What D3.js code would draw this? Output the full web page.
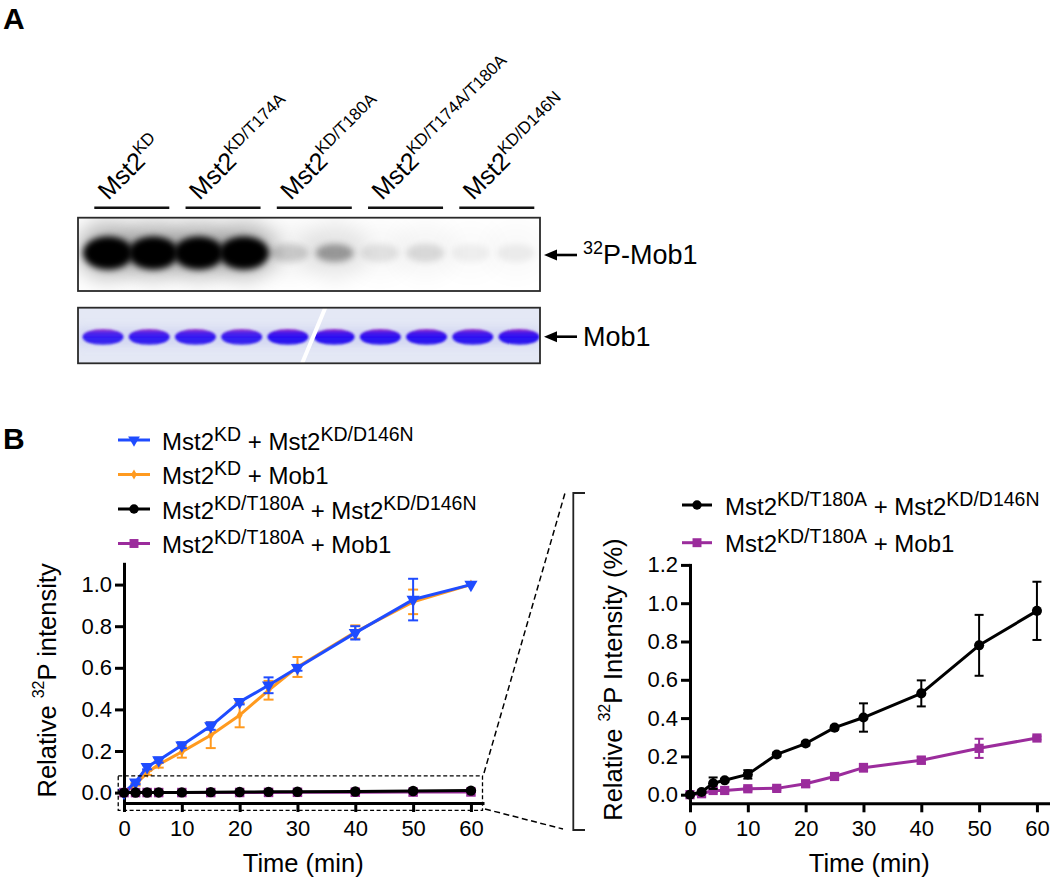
<!DOCTYPE html>
<html>
<head>
<meta charset="utf-8">
<script src="https://cdn.jsdelivr.net/npm/d3@7"></script>
<style>
  body { margin: 0; background: #fff; }
  svg { display: block; }
  text { font-family: "Liberation Sans", Arial, Helvetica, sans-serif; white-space: pre; fill: #000; }
</style>
</head>
<body>
<svg id="fig" width="1050" height="881"></svg>
<script>
// ---------------- DATA ----------------
// Panel A: lane groups (2 lanes each)
const laneGroupLabels = [
  [["Mst2", 0], ["KD", 1]],
  [["Mst2", 0], ["KD/T174A", 1]],
  [["Mst2", 0], ["KD/T180A", 1]],
  [["Mst2", 0], ["KD/T174A/T180A", 1]],
  [["Mst2", 0], ["KD/D146N", 1]]
];
const lanes = [1, 2, 3, 4, 5, 6, 7, 8, 9, 10];
// relative band darkness (32P-Mob1)
const p32Intensity = [1, 1, 1, 1, 0.16, 0.34, 0.09, 0.12, 0.05, 0.06];
// coomassie (Mob1 loading) band intensity
const coomassieIntensity = [0.93, 0.95, 0.95, 0.94, 1, 1, 1, 1, 0.98, 1];

// Panel B: time course
const timePoints = [0, 2, 4, 6, 10, 15, 20, 25, 30, 40, 50, 60];
const xTicks = [0, 10, 20, 30, 40, 50, 60];
const yTicksLeft = [0, 0.2, 0.4, 0.6, 0.8, 1.0];
const yTicksRight = [0, 0.2, 0.4, 0.6, 0.8, 1.0, 1.2];

// Mst2KD + Mst2KD/D146N (relative intensity)
const kdD146N     = [0, 0.05, 0.124, 0.156, 0.228, 0.32, 0.436, 0.516, 0.60, 0.768, 0.928, 1.0];
const kdD146NErr  = [0, 0.01, 0.012, 0.012, 0.014, 0.018, 0.012, 0.038, 0.014, 0.032, 0.10, 0];
// Mst2KD + Mob1
const kdMob1      = [0, 0.04, 0.095, 0.135, 0.196, 0.276, 0.372, 0.492, 0.604, 0.772, 0.917, 1.0];
const kdMob1Err   = [0, 0.006, 0.01, 0.015, 0.028, 0.062, 0.058, 0.045, 0.048, 0.032, 0.059, 0];
// Mst2KD/T180A + Mst2KD/D146N (percent)
const t180D146N    = [0, 0.014, 0.06, 0.075, 0.106, 0.21, 0.267, 0.35, 0.403, 0.529, 0.78, 0.96];
const t180D146NErr = [0, 0.005, 0.03, 0.008, 0.022, 0.01, 0.01, 0.01, 0.074, 0.068, 0.159, 0.152];
// Mst2KD/T180A + Mob1 (percent)
const t180Mob1    = [0, 0.005, 0.022, 0.022, 0.031, 0.033, 0.057, 0.095, 0.141, 0.18, 0.242, 0.296];
const t180Mob1Err = [0, 0.003, 0.008, 0.006, 0.01, 0.008, 0.016, 0.01, 0.02, 0.018, 0.05, 0.008];

const legendLeftLabels = [
  [["Mst2", 0], ["KD", 1], [" + Mst2", 0], ["KD/D146N", 1]],
  [["Mst2", 0], ["KD", 1], [" + Mob1", 0]],
  [["Mst2", 0], ["KD/T180A", 1], [" + Mst2", 0], ["KD/D146N", 1]],
  [["Mst2", 0], ["KD/T180A", 1], [" + Mob1", 0]]
];
const legendRightLabels = [legendLeftLabels[2], legendLeftLabels[3]];

// ---------------- STYLE ----------------
const C = { blue: "#1f4cff", orange: "#ff9a1f", black: "#000000", purple: "#9b2c9c" };

const svg = d3.select("#fig");
const defs = svg.append("defs");

function rich(sel, parts, size, supSize, shift) {
  parts.forEach(([s, sup], i) => {
    const prevSup = i > 0 && parts[i - 1][1];
    const t = sel.append("tspan").text(s);
    if (sup) {
      t.attr("font-size", supSize).attr("dy", prevSup ? 0 : -shift);
    } else {
      t.attr("font-size", size);
      if (prevSup) t.attr("dy", shift);
    }
  });
  return sel;
}

// ---------------- PANEL LETTERS ----------------
svg.append("text").attr("x", 3).attr("y", 29).attr("font-size", 30).attr("font-weight", "bold").text("A");
svg.append("text").attr("x", 3).attr("y", 449).attr("font-size", 30).attr("font-weight", "bold").text("B");

// ---------------- PANEL A ----------------
const groupX = d3.scalePoint().domain(d3.range(5)).range([131.8, 496.8]);
const laneTop = d3.scalePoint().domain(lanes).range([108, 516]);
const laneBot = d3.scalePoint().domain(lanes).range([103, 519]);

// group lines + rotated labels
laneGroupLabels.forEach((parts, i) => {
  const cx = groupX(i);
  svg.append("line").attr("x1", cx - 37.5).attr("x2", cx + 37.5)
    .attr("y1", 207.7).attr("y2", 207.7).attr("stroke", "#111").attr("stroke-width", 2.5);
  const t = svg.append("text")
    .attr("transform", "translate(" + (cx - 23.5).toFixed(1) + ",201) rotate(-45)");
  rich(t, parts, 25, 17, 10);
});

// filters
function blur(id, sd) {
  defs.append("filter").attr("id", id).attr("x", "-100%").attr("y", "-100%")
    .attr("width", "300%").attr("height", "300%")
    .append("feGaussianBlur").attr("stdDeviation", sd);
}
blur("b12", 11); blur("b3", 3); blur("b1", 0.8); blur("b4", 4);

// top blot (autoradiograph)
const topBox = { x: 78, y: 217.7, w: 462, h: 73.3 };
defs.append("clipPath").attr("id", "clipTop").append("rect")
  .attr("x", topBox.x).attr("y", topBox.y).attr("width", topBox.w).attr("height", topBox.h);
const gTop = svg.append("g").attr("clip-path", "url(#clipTop)");
gTop.append("rect").attr("x", topBox.x).attr("y", topBox.y).attr("width", topBox.w).attr("height", topBox.h).attr("fill", "#fff");
gTop.selectAll(".halo").data(lanes).enter().append("ellipse")
  .attr("cx", d => laneTop(d)).attr("cy", 250).attr("rx", 31).attr("ry", 28)
  .attr("fill", "#000").attr("opacity", (d, i) => 0.3 * p32Intensity[i]).attr("filter", "url(#b12)");
gTop.selectAll(".core").data(lanes).enter().append("ellipse")
  .attr("cx", d => laneTop(d)).attr("cy", 253).attr("rx", (d, i) => p32Intensity[i] > 0.5 ? 25 : 19)
  .attr("ry", (d, i) => p32Intensity[i] > 0.5 ? 16.5 : 9)
  .attr("fill", "#000").attr("opacity", (d, i) => p32Intensity[i]).attr("filter", "url(#b3)");
svg.append("rect").attr("x", topBox.x).attr("y", topBox.y).attr("width", topBox.w).attr("height", topBox.h)
  .attr("fill", "none").attr("stroke", "#2a2a2a").attr("stroke-width", 1.8);

// bottom blot (coomassie)
const botBox = { x: 78, y: 307.7, w: 462, h: 55.6 };
defs.append("clipPath").attr("id", "clipBot").append("rect")
  .attr("x", botBox.x).attr("y", botBox.y).attr("width", botBox.w).attr("height", botBox.h);
const grad = defs.append("linearGradient").attr("id", "cg").attr("x1", 0).attr("y1", 0).attr("x2", 0).attr("y2", 1);
[[0, "#a234c4"], [0.22, "#4c1ae6"], [0.5, "#2a10f4"], [0.85, "#2e18ee"], [1, "#5a50ee"]]
  .forEach(([o, c]) => grad.append("stop").attr("offset", o).attr("stop-color", c));
const gBot = svg.append("g").attr("clip-path", "url(#clipBot)");
gBot.append("rect").attr("x", botBox.x).attr("y", botBox.y).attr("width", botBox.w).attr("height", botBox.h).attr("fill", "#e4e8f5");
gBot.append("rect").attr("x", botBox.x).attr("y", 328).attr("width", botBox.w).attr("height", 18)
  .attr("fill", "#c4c9f0").attr("opacity", 0.55).attr("filter", "url(#b4)");
gBot.selectAll(".cb").data(lanes).enter().append("ellipse")
  .attr("cx", d => laneBot(d)).attr("cy", 337).attr("rx", 20.5).attr("ry", 8)
  .attr("fill", "url(#cg)").attr("opacity", (d, i) => coomassieIntensity[i]).attr("filter", "url(#b1)");
gBot.append("line").attr("x1", 326).attr("y1", 306).attr("x2", 301).attr("y2", 366)
  .attr("stroke", "#fff").attr("stroke-width", 4);
svg.append("rect").attr("x", botBox.x).attr("y", botBox.y).attr("width", botBox.w).attr("height", botBox.h)
  .attr("fill", "none").attr("stroke", "#2a2a2a").attr("stroke-width", 1.8);

// arrows + labels
function arrow(y) {
  svg.append("line").attr("x1", 553).attr("x2", 577).attr("y1", y).attr("y2", y)
    .attr("stroke", "#000").attr("stroke-width", 2.6);
  svg.append("path").attr("d", `M544,${y} L557,${y - 5.5} L557,${y + 5.5} Z`).attr("fill", "#000");
}
arrow(255); arrow(336.7);
rich(svg.append("text").attr("x", 583).attr("y", 263.5), [["32", 1], ["P-Mob1", 0]], 27, 18, 10);
svg.append("text").attr("x", 583).attr("y", 346).attr("font-size", 27).text("Mob1");

// ---------------- PANEL B helpers ----------------
function drawAxes(x, y, yTicks, title, titleX, titleShift, xTitleY) {
  const gy = svg.append("g").attr("transform", `translate(${x.range()[0]},0)`)
    .call(d3.axisLeft(y).tickValues(yTicks).tickFormat(d3.format(".1f")).tickSize(9).tickSizeOuter(0).tickPadding(3));
  const gx = svg.append("g").attr("transform", `translate(0,${y.range()[0]})`)
    .call(d3.axisBottom(x).tickValues(xTicks).tickFormat(d3.format("d")).tickSize(9).tickSizeOuter(0).tickPadding(8));
  [gx, gy].forEach(g => {
    g.select(".domain").attr("stroke", "#000").attr("stroke-width", 3).attr("stroke-linecap", "square");
    g.selectAll(".tick line").attr("stroke", "#000").attr("stroke-width", 3);
    g.selectAll(".tick text").attr("font-size", 22).attr("fill", "#000")
      .style("font-family", '"Liberation Sans", Arial, Helvetica, sans-serif');
  });
  const xm = (x.range()[0] + x.range()[1]) / 2;
  svg.append("text").attr("x", xm).attr("y", xTitleY).attr("text-anchor", "middle").attr("font-size", 25.5).text("Time (min)");
  const ym = (y.range()[0] + y.range()[1]) / 2 + titleShift;
  const t = svg.append("text").attr("transform", `translate(${titleX},${ym}) rotate(-90)`).attr("text-anchor", "middle");
  rich(t, title, 25.5, 16, 12);
}

function drawSeries(x, y, vals, errs, color, symbol, size, rotate, capW) {
  const g = svg.append("g");
  const pts = timePoints.map((t, i) => ({ t, v: vals[i], e: errs[i] }));
  const eb = g.selectAll(".eb").data(pts.filter(p => p.e > 0)).enter().append("g");
  eb.append("line").attr("x1", p => x(p.t)).attr("x2", p => x(p.t))
    .attr("y1", p => y(p.v - p.e)).attr("y2", p => y(p.v + p.e)).attr("stroke", color).attr("stroke-width", 2);
  [-1, 1].forEach(s => eb.append("line").attr("x1", p => x(p.t) - capW / 2).attr("x2", p => x(p.t) + capW / 2)
    .attr("y1", p => y(p.v + s * p.e)).attr("y2", p => y(p.v + s * p.e)).attr("stroke", color).attr("stroke-width", 2));
  g.append("path").datum(pts).attr("fill", "none").attr("stroke", color).attr("stroke-width", 3)
    .attr("stroke-linejoin", "round")
    .attr("d", d3.line().x(p => x(p.t)).y(p => y(p.v)));
  g.selectAll(".m").data(pts).enter().append("path")
    .attr("d", d3.symbol(symbol, size))
    .attr("transform", p => `translate(${x(p.t)},${y(p.v)}) rotate(${rotate})`)
    .attr("fill", color);
}

function legendItem(xs, ysym, xtext, parts, color, symbol, size, rotate) {
  svg.append("line").attr("x1", xs[0]).attr("x2", xs[1]).attr("y1", ysym).attr("y2", ysym)
    .attr("stroke", color).attr("stroke-width", 3);
  svg.append("path").attr("d", d3.symbol(symbol, size)).attr("fill", color)
    .attr("transform", `translate(${(xs[0] + xs[1]) / 2},${ysym}) rotate(${rotate})`);
  rich(svg.append("text").attr("x", xtext).attr("y", ysym + 9.5), parts, 24, 19.5, 9);
}

// ---------------- LEFT CHART ----------------
const xL = d3.scaleLinear().domain([0, 62]).range([124, 482.5]);
const yL = d3.scaleLinear().domain([-0.05, 1.1]).range([803, 563.8]);
drawAxes(xL, yL, yTicksLeft, [["Relative ", 0], ["32", 1], ["P intensity", 0]], 56, -3, 872);

const pct = v => v / 100; // percent -> fraction for the overview plot
drawSeries(xL, yL, kdMob1, kdMob1Err, C.orange, d3.symbolDiamond, 30, 0, 10);
drawSeries(xL, yL, kdD146N, kdD146NErr, C.blue, d3.symbolTriangle, 75, 180, 10);
drawSeries(xL, yL, t180Mob1.map(pct), t180Mob1Err.map(pct), C.purple, d3.symbolSquare, 90, 0, 10);
drawSeries(xL, yL, t180D146N.map(pct), t180D146NErr.map(pct), C.black, d3.symbolCircle, 85, 0, 10);

// dashed zoom box
svg.append("rect").attr("x", xL(-1)).attr("y", yL(0.08)).attr("width", xL(62) - xL(-1)).attr("height", yL(-0.085) - yL(0.08))
  .attr("fill", "none").attr("stroke", "#000").attr("stroke-width", 1.3).attr("stroke-dasharray", "4,2.5");
svg.append("line").attr("x1", 484).attr("y1", 773).attr("x2", 565).attr("y2", 493)
  .attr("stroke", "#000").attr("stroke-width", 1.5).attr("stroke-dasharray", "6,3.5");
svg.append("line").attr("x1", 485).attr("y1", 809).attr("x2", 563).attr("y2", 829)
  .attr("stroke", "#000").attr("stroke-width", 1.5).attr("stroke-dasharray", "6,3.5");
svg.append("path").attr("d", "M585,493 H573.3 V830 H585").attr("fill", "none")
  .attr("stroke", "#222").attr("stroke-width", 1.8);

// left legend
const legendLeftStyle = [
  [C.blue, d3.symbolTriangle, 60, 180],
  [C.orange, d3.symbolDiamond, 30, 0],
  [C.black, d3.symbolCircle, 70, 0],
  [C.purple, d3.symbolSquare, 80, 0]
];
const legYL = d3.scalePoint().domain(d3.range(4)).range([440, 543.5]);
legendLeftLabels.forEach((parts, i) => {
  const [c, s, sz, r] = legendLeftStyle[i];
  legendItem([118, 150], legYL(i), 162, parts, c, s, sz, r);
});

// ---------------- RIGHT CHART ----------------
const xR = d3.scaleLinear().domain([0, 62]).range([690, 1048.5]);
const yR = d3.scaleLinear().domain([-0.045, 1.2]).range([803.3, 564.9]);
drawAxes(xR, yR, yTicksRight, [["Relative ", 0], ["32", 1], ["P Intensity (%)", 0]], 621.5, -4.5, 872);
drawSeries(xR, yR, t180Mob1, t180Mob1Err, C.purple, d3.symbolSquare, 85, 0, 9);
drawSeries(xR, yR, t180D146N, t180D146NErr, C.black, d3.symbolCircle, 80, 0, 9);

const legYR = d3.scalePoint().domain(d3.range(2)).range([505, 542.7]);
legendItem([682, 712], legYR(0), 725, legendRightLabels[0], C.black, d3.symbolCircle, 70, 0);
legendItem([682, 712], legYR(1), 725, legendRightLabels[1], C.purple, d3.symbolSquare, 80, 0);
</script>
</body>
</html>
